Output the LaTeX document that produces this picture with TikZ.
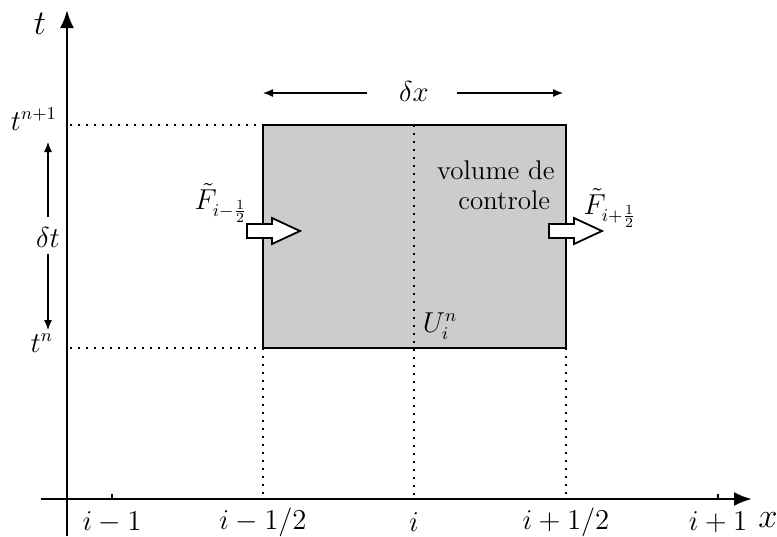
\documentclass[tikz,border=0pt]{standalone}
\usepackage{amssymb}
\usepackage{amsmath}
\usepackage{tikz}
\usetikzlibrary{arrows.meta,calc}

\begin{document}
\begin{tikzpicture}[x=0.5pt,y=-0.5pt,
    every node/.style={font=\fontsize{13.5}{15}\selectfont},
    axis/.style={line width=1.3pt,-{Latex[length=9pt,width=7pt]}},
    grid/.style={line width=0.8pt,dash pattern=on 0.8pt off 3.2pt},
    span/.style={line width=0.6pt,-{Latex[length=5pt,width=4pt]}},
    flux/.style={draw,line width=0.9pt,fill=white}]
    \useasboundingbox (0,0) rectangle (777,536);
    % axes
    \coordinate (O) at (67,499);
    \coordinate (xs) at (41,499);
    \coordinate (xe) at (752,499);
    \coordinate (ys) at (67,536);
    \coordinate (ye) at (67,10);
    \draw[axis] (xs) -- (xe);
    \draw[axis] (ys) -- (ye);
    \node[font=\fontsize{19}{22}\selectfont] (tlab) at (40,24) {$t$};
    \node[font=\fontsize{19}{22}\selectfont] (xlab) at (768,520) {$x$};
    % control volume
    \coordinate (A) at (263,348);
    \coordinate (B) at (566,348);
    \coordinate (C) at (566,125);
    \coordinate (D) at (263,125);
    \draw[line width=1pt, fill=black!20] (A) -- (B) -- (C) -- (D) -- cycle;
    % dotted lines
    \draw[grid] (70,125) -- (D);
    \draw[grid] (70,348) -- (A);
    \draw[grid] (414,125) -- (414,499);
    \draw[grid] (A) -- (263,499);
    \draw[grid] (B) -- (566,499);
    % ticks and labels
    \foreach \x in {112,718} {\draw[line width=0.9pt] (\x,499) -- (\x,494);}
    \foreach \x/\l in {112/{i-1}, 263/{i-1/2}, 414/{i}, 566/{i+1/2}, 718/{i+1}}
        {\node at (\x,522) {$\l$};}
    \node[left] (tn1) at (64,119) {$t^{n+1}$};
    \node[left] (tn) at (60,343) {$t^{n}$};
    % delta t
    \node (dt) at (48,237) {$\delta t$};
    \draw[span] (48,217) -- (48,142);
    \draw[span] (48,254) -- (48,330);
    % delta x
    \node (dx) at (414,91) {$\delta x$};
    \draw[span] (367,93) -- (263,93);
    \draw[span] (457,93) -- (563,93);
    % fluxes
    \foreach \x in {247,549}
        {\draw[flux] (\x,224) -- ++(25,0) -- ++(0,-6) -- ++(28,13) -- ++(-28,13)
            -- ++(0,-6) -- ++(-25,0) -- cycle;}
    \node (Fl) at (221,203) {$\tilde{F}_{i-\frac{1}{2}}$};
    \node (Fr) at (610,208) {$\tilde{F}_{i+\frac{1}{2}}$};
    \node[align=right, anchor=east, inner sep=0pt] (vc) at (555,185) {volume de\\controle\,};
    \node (U) at (440,326) {$U_i^n$};
\end{tikzpicture}
\end{document}
